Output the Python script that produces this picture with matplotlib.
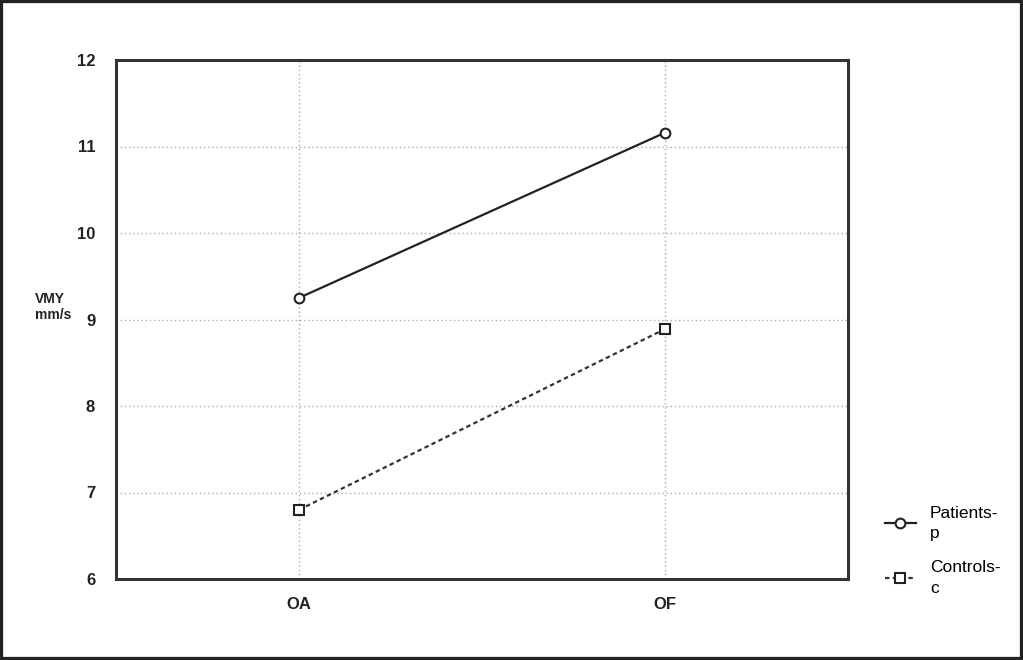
import matplotlib.pyplot as plt
from matplotlib.patches import Rectangle

# data
conditions = ["OA", "OF"]
patients = [9.25, 11.16]
controls = [6.80, 8.89]
y_ticks = [6, 7, 8, 9, 10, 11, 12]

plt.rcParams["font.family"] = ["Liberation Sans", "DejaVu Sans"]

fig = plt.figure(figsize=(10.23, 6.6), dpi=100)
ax = fig.add_axes([116 / 1023, 1 - 579 / 660, (848 - 116) / 1023, (579 - 60) / 660])

x = list(range(len(conditions)))
ax.plot(x, patients, color="#222222", lw=1.6, ls="-", marker="o", ms=7,
        mfc="white", mec="#222222", mew=1.5, label="Patients-\np")
ax.plot(x, controls, color="#333333", lw=1.6, ls=(0, (2, 1.5)), marker="s", ms=7.5,
        mfc="white", mec="#222222", mew=1.5, label="Controls-\nc")

ax.set_xlim(-0.5, 1.5)
ax.set_ylim(6, 12)
ax.set_xticks(x)
ax.set_xticklabels(conditions)
ax.set_yticks(y_ticks)
ax.tick_params(length=0, labelsize=12, pad=13)
ax.tick_params(axis="y", pad=15)
for lab in ax.get_xticklabels() + ax.get_yticklabels():
    lab.set_fontweight("bold")
    lab.set_color("#222222")

ax.grid(True, color="#aaaaaa", ls=(0, (1, 2)), lw=1)
for s in ax.spines.values():
    s.set_linewidth(2.2)
    s.set_color("#333333")

fig.text(35 / 1023, 1 - 307 / 660, "VMY\nmm/s", fontsize=10, fontweight="bold",
         va="center", ha="left", linespacing=1.1, color="#222222")

leg = ax.legend(loc="upper left", bbox_to_anchor=(869 / 1023, 1 - 490 / 660),
                bbox_transform=fig.transFigure, frameon=False, fontsize=12.5,
                handlelength=1.8, labelspacing=1.1, handletextpad=0.8)
for t in leg.get_texts():
    t.set_linespacing(1.45)

fig.patches.append(Rectangle((0, 0), 1, 1, transform=fig.transFigure, fill=False,
                             edgecolor="#222222", lw=4.5, zorder=10))

fig.savefig("out.png", dpi=100)
